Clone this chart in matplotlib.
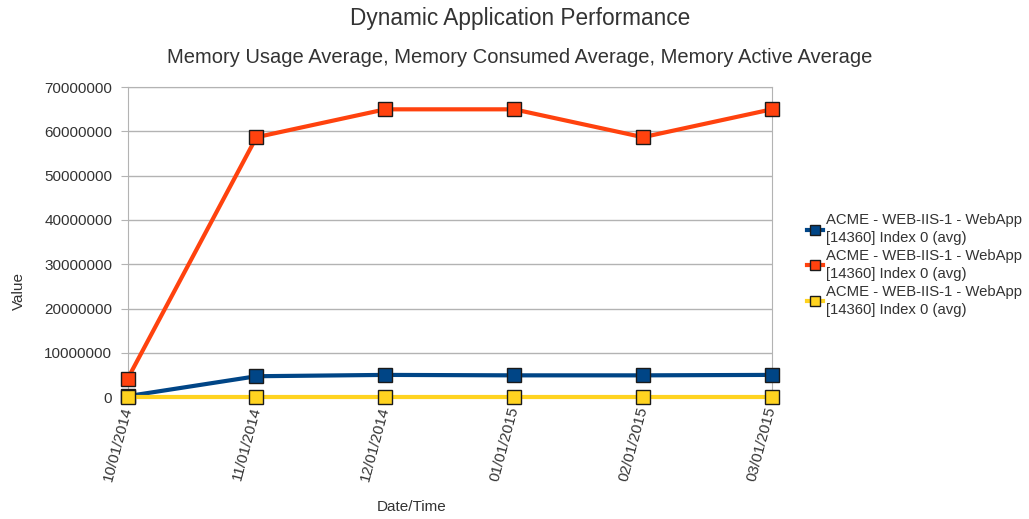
import matplotlib.pyplot as plt

plt.rcParams["font.family"] = ["Liberation Sans", "DejaVu Sans"]

# data
dates = ["10/01/2014", "11/01/2014", "12/01/2014", "01/01/2015", "02/01/2015", "03/01/2015"]
usage_avg = [200000, 4700000, 5000000, 4900000, 4900000, 5000000]
consumed_avg = [4100000, 58700000, 65000000, 65000000, 58700000, 65000000]
active_avg = [0, 0, 0, 0, 0, 0]
series_label = "ACME - WEB-IIS-1 - WebApp\n[14360] Index 0 (avg)"

colors = ["#004586", "#ff420e", "#ffd320"]
txt = "#333333"

fig = plt.figure(figsize=(10.29, 5.19), dpi=100)
ax = fig.add_axes([0.124, 0.235, 0.626, 0.597])

x = list(range(len(dates)))
for vals, c in zip([usage_avg, consumed_avg, active_avg], colors):
    ax.plot(x, vals, color=c, lw=3, marker="s", markersize=10,
            markerfacecolor=c, markeredgecolor="#1a1a1a", markeredgewidth=1,
            label=series_label, clip_on=False, zorder=3)

ax.set_xlim(0, len(dates) - 1)
ax.set_ylim(0, 70000000)
yticks = list(range(0, 70000001, 10000000))
ax.set_yticks(yticks)
ax.set_yticklabels([str(v) for v in yticks])
ax.set_xticks(x)
ax.set_xticklabels(dates, rotation=75, ha="right", va="center", rotation_mode="anchor")

ax.grid(axis="y", color="#b3b3b3", lw=1)
ax.set_axisbelow(True)
for s in ax.spines.values():
    s.set_color("#b3b3b3")
ax.tick_params(axis="y", colors="#b3b3b3", labelcolor=txt, labelsize=11, length=5, pad=6)
ax.tick_params(axis="x", colors="#b3b3b3", labelcolor=txt, labelsize=11, length=0, pad=7)

# axis titles placed by hand, as in the reference
fig.text(0.018, 0.44, "Value", rotation=90, ha="center", va="center", fontsize=11, color=txt)
fig.text(0.40, 0.023, "Date/Time", ha="center", va="center", fontsize=11, color=txt)

fig.text(0.505, 0.965, "Dynamic Application Performance", ha="center", va="center",
         fontsize=16.3, color=txt)
fig.text(0.505, 0.89, "Memory Usage Average, Memory Consumed Average, Memory Active Average",
         ha="center", va="center", fontsize=14.5, color=txt)

leg = ax.legend(loc="center left", bbox_to_anchor=(1.034, 0.426), frameon=False,
                fontsize=10.7, handlelength=1.1, handletextpad=0.2, labelspacing=0.28,
                markerscale=0.75, labelcolor=txt)
for t in leg.get_texts():
    t.set_linespacing(1.33)

fig.savefig("out.png", dpi=100, facecolor="white")
